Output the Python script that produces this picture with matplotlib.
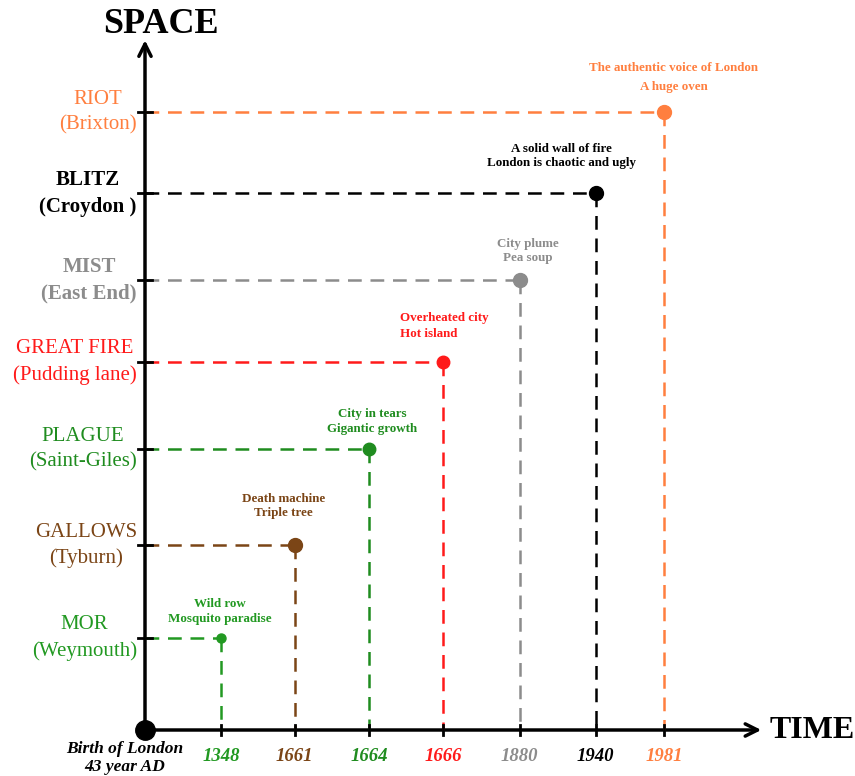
import matplotlib
matplotlib.use("Agg")
import matplotlib.pyplot as plt

# ---- data ----
years = ["1348", "1661", "1664", "1666", "1880", "1940", "1981"]
places = ["MOR\n(Weymouth)", "GALLOWS\n(Tyburn)", "PLAGUE\n(Saint-Giles)",
          "GREAT FIRE\n(Pudding lane)", "MIST\n(East End)", "BLITZ\n(Croydon )",
          "RIOT\n(Brixton)"]
time_pos = [1.02, 2.01, 3.01, 4.0, 5.03, 6.05, 6.97]
space_pos = [1.045, 2.10, 3.19, 4.18, 5.11, 6.10, 7.02]
notes = ["Wild row\nMosquito paradise", "Death machine\nTriple tree",
         "City in tears\nGigantic growth", "Overheated city\nHot island",
         "City plume\nPea soup", "A solid wall of fire\nLondon is chaotic and ugly",
         "The authentic voice of London\nA huge oven"]
colors = ["#229922", "#7b4516", "#1f8c1f", "#ff1a1a", "#8c8c8c", "#000000", "#ff7f3f"]
origin_label = "Birth of London\n43 year AD"

plt.rcParams['font.family'] = ['Liberation Serif', 'DejaVu Serif']

fig = plt.figure(figsize=(8.55, 7.76), dpi=100)
ax = fig.add_axes([0, 0, 1, 1])
px_x = 74.5
px_y = 88.0
ax.set_xlim(-145 / px_x, (855 - 145) / px_x)
ax.set_ylim(-46 / px_y, (776 - 46) / px_y)
ax.axis('off')

# axes arrows
ax.annotate("", xy=(0, 7.87), xytext=(0, 0),
            arrowprops=dict(arrowstyle="->", lw=2.5, color="black", mutation_scale=22))
ax.annotate("", xy=(8.31, 0), xytext=(0, 0),
            arrowprops=dict(arrowstyle="->", lw=2.5, color="black", mutation_scale=22))
ax.plot([0], [0], 'o', color='black', ms=14, zorder=6)

ax.text(0.21, 8.02, "SPACE", ha='center', va='center', fontsize=26, fontweight='bold')
ax.text(8.38, 0, "TIME", ha='left', va='center', fontsize=23, fontweight='bold')

msizes = [6.5, 10, 9, 9, 10, 10, 10]
note_off = [(-0.5, 19), (-8, 28), (2, 20), (0.7, 26), (6, 21), (-25, 27), (7, 25)]
note_align = ['center', 'center', 'center', 'left', 'center', 'center', 'center']
note_ls = [1.35, 1.25, 1.4, 1.45, 1.25, 1.25, 1.75]

for i, (x, y) in enumerate(zip(time_pos, space_pos)):
    c = colors[i]
    ax.plot([0, x], [y, y], ls=(0, (5.5, 3.5)), color=c, lw=1.8, zorder=3)
    ax.plot([x, x], [y, 0], ls=(0, (5.5, 3.5)), color=c, lw=1.8, zorder=3)
    ax.plot([x], [y], 'o', color=c, ms=msizes[i], zorder=5)
    # tick marks
    ax.plot([x, x], [-0.06, 0.06], color='black', lw=2, zorder=4)
    ax.plot([-0.1, 0.1], [y, y], color='black', lw=2, zorder=4)
    # year labels
    ax.text(x, -0.3, years[i], ha='center', va='center', fontsize=13.5,
            fontweight='bold', style='italic', color=c)
    # place labels
    ax.text(-0.11, y, places[i], ha='right', va='center', multialignment='center',
            fontsize=15, color=c, linespacing=1.45,
            fontweight='bold' if c in ("#000000", "#8c8c8c") else 'normal')
    # notes
    dx, dy = note_off[i]
    ax.annotate(notes[i], xy=(x, y), xytext=(dx, dy), textcoords='offset points',
                ha='center', va='center', multialignment=note_align[i],
                fontsize=9.4, fontweight='bold', color=c, linespacing=note_ls[i])

ax.text(-0.27, -0.32, origin_label, ha='center', va='center', fontsize=12.5,
        fontweight='bold', style='italic', color='black', linespacing=1.15)

fig.savefig("out.png", dpi=100)
